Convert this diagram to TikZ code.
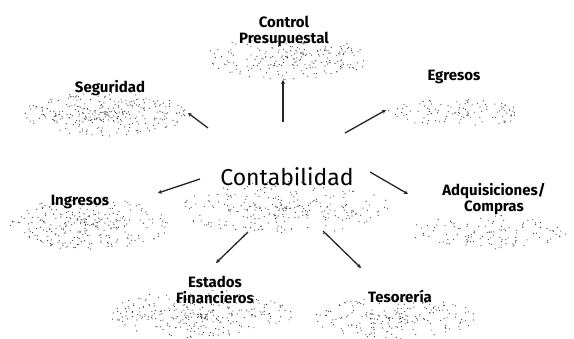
\documentclass[tikz,border=0pt]{standalone}
\usepackage{fontspec}
\setmainfont{Fira Sans}
\usetikzlibrary{arrows.meta}
\tikzset{
  lbl/.style={font=\fontsize{15}{16}\selectfont\bfseries, align=center, inner sep=1pt},
  mainlbl/.style={font=\fontsize{23}{25}\selectfont, inner sep=1pt},
  link/.style={line width=1.3pt, black!85, -{Stealth[length=4pt,width=4pt]}},
  speck/.style={fill=black!80}
}
\newcommand\dotcloud[5]{%
  \foreach \k in {1,...,#5}{%
    \pgfmathsetmacro\rr{rnd^0.75}%
    \pgfmathsetmacro\tt{360*rnd}%
    \fill[speck] ({#1+#3*\rr*cos(\tt)},{#2+#4*\rr*sin(\tt)}) circle (0.6pt);
  }%
}
\begin{document}
\begin{tikzpicture}[x=1pt,y=-1pt]
\pgfmathsetseed{17}
\useasboundingbox (0,0) rectangle (574,339);
% clouds
\dotcloud{285}{58}{85}{22}{220}
\dotcloud{105}{114}{82}{22}{300}
\dotcloud{455}{113}{68}{14}{110}
\dotcloud{285}{208}{105}{28}{260}
\dotcloud{90}{224}{80}{26}{280}
\dotcloud{488}{232}{80}{17}{120}
\dotcloud{200}{314}{92}{24}{290}
\dotcloud{395}{318}{82}{21}{200}
% labels
\node[lbl] (ctrl) at (284,31) {Control\\Presupuestal};
\node[lbl] (seg) at (110,88) {Seguridad};
\node[lbl] (egr) at (454,77) {Egresos};
\node[mainlbl] (cont) at (287,177) {Contabilidad};
\node[lbl] (ing) at (80,202) {Ingresos};
\node[lbl] (adq) at (494,199) {Adquisiciones/\\Compras};
\node[lbl] (est) at (215,290) {Estados\\Financieros};
\node[lbl] (tes) at (400,296) {Tesorería};
% connector ends
\coordinate (a1) at (283,122); \coordinate (b1) at (283,80);
\coordinate (a2) at (208,128); \coordinate (b2) at (188,113);
\coordinate (a3) at (345,133); \coordinate (b3) at (386,110);
\coordinate (a4) at (200,179); \coordinate (b4) at (158,193);
\coordinate (a5) at (370,172); \coordinate (b5) at (408,194);
\coordinate (a6) at (248,232); \coordinate (b6) at (216,263);
\coordinate (a7) at (323,231); \coordinate (b7) at (361,268);
\foreach \i in {1,...,7}{\draw[link] (a\i) -- (b\i);}
\end{tikzpicture}
\end{document}
